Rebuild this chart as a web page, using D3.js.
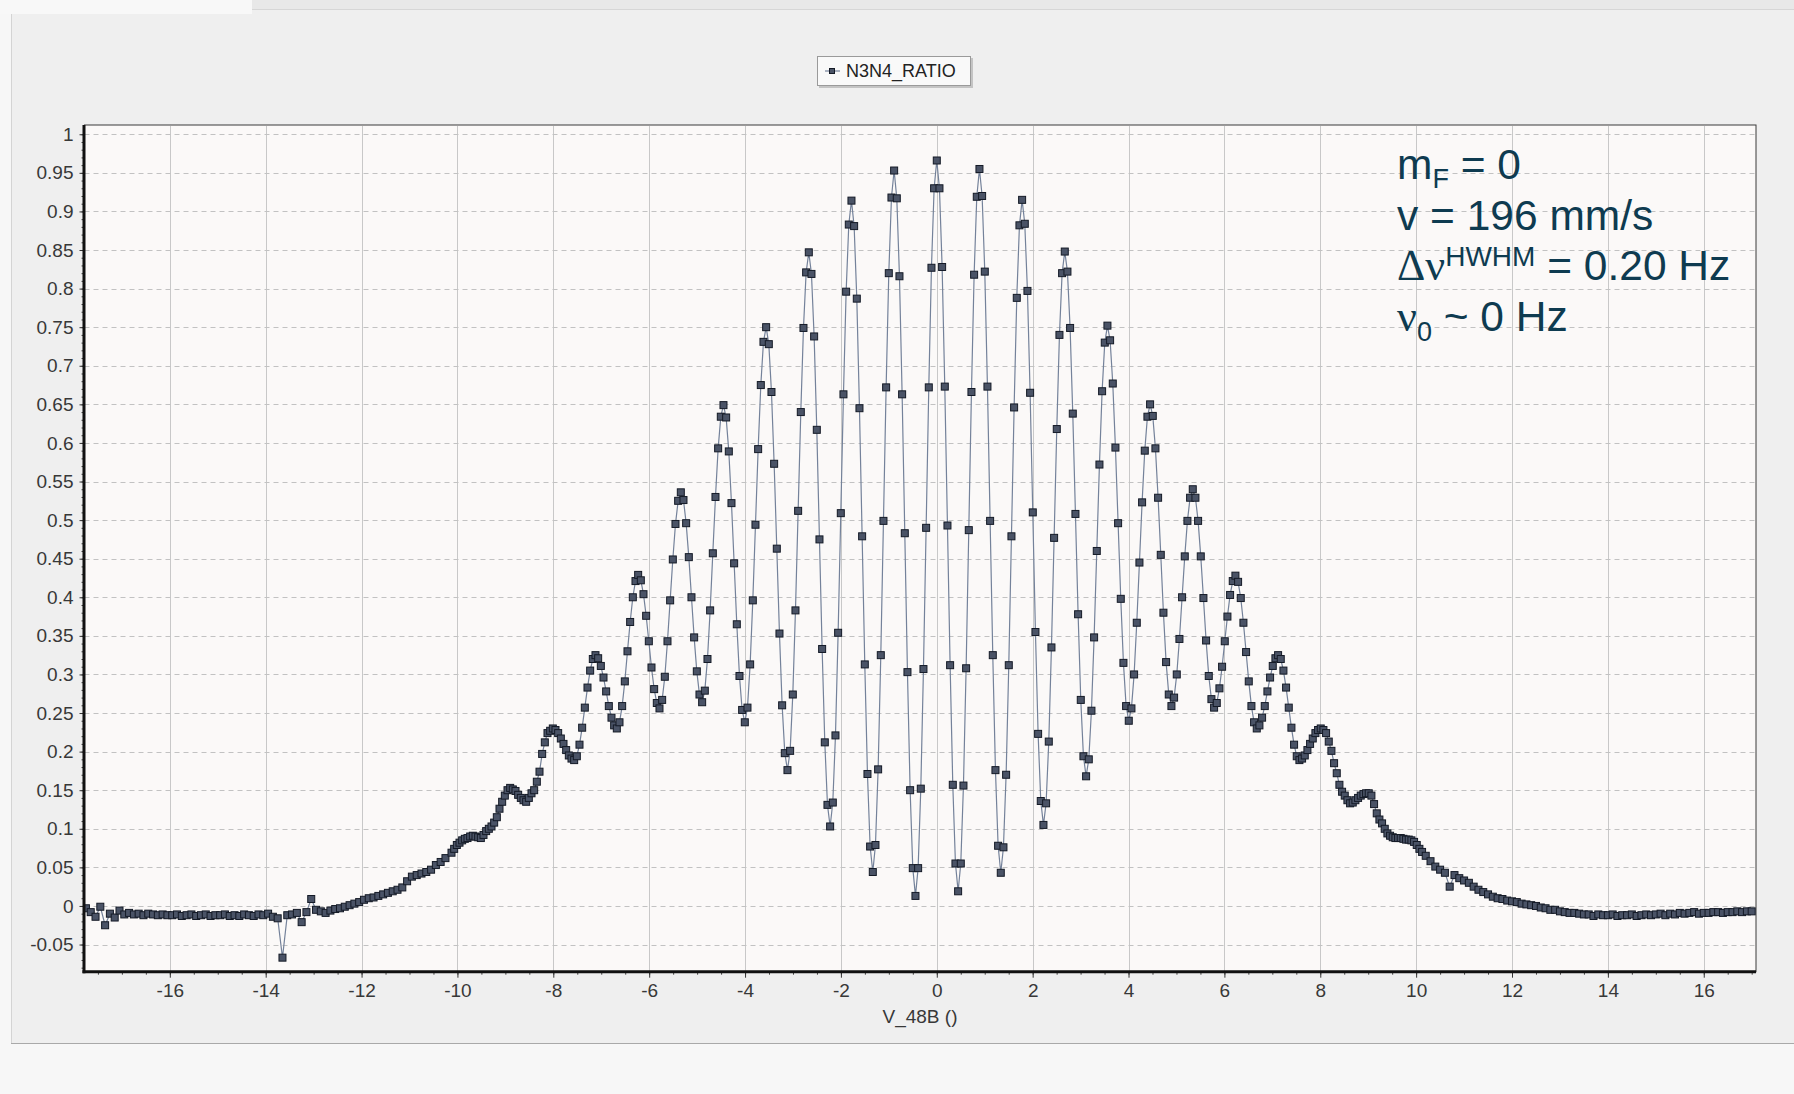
<!DOCTYPE html>
<html>
<head>
<meta charset="utf-8">
<script src="https://cdn.jsdelivr.net/npm/d3@7"></script>
<style>
  body { margin: 0; background: #efefef; }
  svg { display: block; }
</style>
</head>
<body>
<div id="chart"></div>
<script>
// N3N4_RATIO vs V_48B
let seriesName = "N3N4_RATIO";
let xTitle = "V_48B ()";

let xTicks = [-16, -14, -12, -10, -8, -6, -4, -2, 0, 2, 4, 6, 8, 10, 12, 14, 16];
let yTicks = [-0.05, 0, 0.05, 0.1, 0.15, 0.2, 0.25, 0.3, 0.35, 0.4, 0.45, 0.5,
              0.55, 0.6, 0.65, 0.7, 0.75, 0.8, 0.85, 0.9, 0.95, 1];

// left tail, V from -17.75 in steps of 0.1
let leftTailStart = -17.75;
let tailStep = 0.1;
let leftTailRatio = [
  -0.003, -0.008, -0.014, -0.001, -0.025, -0.010, -0.015, -0.006, -0.011, -0.009,
  -0.011, -0.010, -0.012, -0.010, -0.011, -0.012, -0.011, -0.012, -0.012, -0.011,
  -0.013, -0.012, -0.011, -0.013, -0.012, -0.011, -0.013, -0.012, -0.012, -0.011,
  -0.013, -0.012, -0.013, -0.011, -0.012, -0.013, -0.011, -0.012, -0.010, -0.014,
  -0.016, -0.067, -0.012, -0.011, -0.009, -0.021, -0.008, 0.009, -0.005, -0.007,
  -0.009, -0.006, -0.004, -0.003, -0.001, 0.001, 0.003, 0.005, 0.008, 0.010,
  0.011, 0.013, 0.015, 0.017, 0.019, 0.021, 0.024, 0.032, 0.038, 0.040,
  0.042, 0.044, 0.047, 0.053, 0.057, 0.062
];

// fringe region, finer steps
let centerStart = -10.12375;
let centerStep = 0.055625;
let centerRatio = [
  0.069, 0.074, 0.079, 0.082, 0.085, 0.087,
  0.088, 0.090, 0.091, 0.090, 0.089, 0.088, 0.092, 0.097, 0.100, 0.103, 0.108, 0.115, 0.126, 0.135, 0.143, 0.150,
  0.153, 0.151, 0.149, 0.144, 0.140, 0.137, 0.135, 0.140, 0.146, 0.150, 0.161, 0.174, 0.197, 0.212, 0.224, 0.227,
  0.230, 0.228, 0.224, 0.217, 0.210, 0.202, 0.195, 0.191, 0.189, 0.194, 0.209, 0.231, 0.257, 0.283, 0.305, 0.320,
  0.325, 0.321, 0.311, 0.296, 0.278, 0.259, 0.244, 0.234, 0.230, 0.238, 0.259, 0.291, 0.330, 0.368, 0.400, 0.421,
  0.429, 0.422, 0.404, 0.376, 0.343, 0.309, 0.281, 0.263, 0.256, 0.267, 0.297, 0.343, 0.396, 0.449, 0.495, 0.525,
  0.536, 0.526, 0.496, 0.452, 0.400, 0.348, 0.304, 0.274, 0.264, 0.279, 0.320, 0.383, 0.457, 0.530, 0.593, 0.634,
  0.649, 0.633, 0.589, 0.522, 0.444, 0.365, 0.298, 0.254, 0.238, 0.257, 0.313, 0.396, 0.494, 0.592, 0.675, 0.731,
  0.750, 0.728, 0.666, 0.573, 0.463, 0.353, 0.260, 0.198, 0.176, 0.201, 0.274, 0.383, 0.512, 0.640, 0.749, 0.821,
  0.847, 0.819, 0.738, 0.617, 0.475, 0.333, 0.212, 0.131, 0.103, 0.134, 0.221, 0.354, 0.509, 0.663, 0.796, 0.883,
  0.914, 0.881, 0.787, 0.645, 0.479, 0.313, 0.171, 0.077, 0.044, 0.079, 0.177, 0.325, 0.499, 0.672, 0.820, 0.918,
  0.953, 0.917, 0.816, 0.663, 0.483, 0.303, 0.150, 0.049, 0.013, 0.049, 0.152, 0.307, 0.490, 0.672, 0.827, 0.930,
  0.966,
  0.930, 0.828, 0.673, 0.493, 0.312, 0.157, 0.055, 0.019, 0.055, 0.156, 0.308, 0.487, 0.666, 0.818, 0.919, 0.955,
  0.920, 0.822, 0.673, 0.499, 0.325, 0.176, 0.078, 0.043, 0.076, 0.170, 0.312, 0.479, 0.646, 0.788, 0.882, 0.915,
  0.884, 0.797, 0.665, 0.510, 0.355, 0.223, 0.136, 0.105, 0.133, 0.213, 0.335, 0.477, 0.618, 0.740, 0.820, 0.848,
  0.822, 0.749, 0.638, 0.508, 0.378, 0.267, 0.194, 0.168, 0.190, 0.253, 0.348, 0.460, 0.572, 0.667, 0.730, 0.752,
  0.733, 0.677, 0.594, 0.496, 0.398, 0.315, 0.259, 0.240, 0.256, 0.300, 0.367, 0.445, 0.523, 0.590, 0.634, 0.650,
  0.635, 0.593, 0.529, 0.455, 0.380, 0.316, 0.274, 0.259, 0.270, 0.300, 0.346, 0.400, 0.453, 0.499, 0.529, 0.540,
  0.529, 0.499, 0.453, 0.399, 0.344, 0.298, 0.268, 0.257, 0.263, 0.282, 0.310, 0.343, 0.375, 0.403, 0.421, 0.428,
  0.420, 0.399, 0.367, 0.329, 0.291, 0.259, 0.238, 0.230, 0.234, 0.244, 0.259, 0.278, 0.296, 0.311, 0.321, 0.325,
  0.320, 0.305, 0.283, 0.257, 0.231, 0.209, 0.194, 0.189, 0.191, 0.195, 0.202, 0.210, 0.217, 0.224, 0.228, 0.230,
  0.228, 0.224, 0.213, 0.201, 0.185, 0.172, 0.157, 0.148, 0.143, 0.137, 0.133, 0.134, 0.137, 0.140, 0.143, 0.145,
  0.146, 0.146, 0.143, 0.132, 0.120, 0.112, 0.107, 0.100, 0.094, 0.091, 0.089, 0.088, 0.088, 0.088, 0.087, 0.086,
  0.086, 0.085, 0.083, 0.079, 0.074, 0.070
];

// right tail, V from 10.2 in steps of 0.1
let rightTailStart = 10.2;
let rightTailRatio = [
  0.065, 0.058, 0.051, 0.047, 0.043, 0.025, 0.040, 0.036, 0.033, 0.030,
  0.025, 0.021, 0.018, 0.015, 0.012, 0.010, 0.009, 0.007, 0.006, 0.005,
  0.003, 0.002, 0.001, 0.000, -0.002, -0.003, -0.005, -0.005, -0.007, -0.008,
  -0.009, -0.009, -0.010, -0.011, -0.011, -0.013, -0.011, -0.012, -0.012, -0.011,
  -0.013, -0.012, -0.012, -0.011, -0.013, -0.012, -0.011, -0.012, -0.011, -0.010,
  -0.012, -0.010, -0.011, -0.009, -0.010, -0.009, -0.008, -0.010, -0.009, -0.009,
  -0.008, -0.008, -0.009, -0.008, -0.008, -0.007, -0.008, -0.007, -0.007
];

let width = 1794;
let height = 1094;
let plotLeft = 84.5, plotRight = 1756, plotTop = 125, plotBottom = 971.7;

let points = [];
leftTailRatio.forEach((r, k) => points.push({ v: leftTailStart + k * tailStep, r: r }));
centerRatio.forEach((r, k) => points.push({ v: centerStart + k * centerStep, r: r }));
rightTailRatio.forEach((r, k) => points.push({ v: rightTailStart + k * tailStep, r: r }));

let svg = d3.select("#chart").append("svg")
    .attr("width", width)
    .attr("height", height);

// window chrome around the chart
svg.append("rect").attr("width", width).attr("height", height).attr("fill", "#efefef");
svg.append("rect").attr("x", 0).attr("y", 0).attr("width", width).attr("height", 9).attr("fill", "#e8e8e8");
svg.append("line").attr("x1", 0).attr("x2", width).attr("y1", 9.5).attr("y2", 9.5).attr("stroke", "#d6d6d6");
svg.append("rect").attr("x", 0).attr("y", 0).attr("width", 252).attr("height", 14).attr("fill", "#f8f8f8");
svg.append("rect").attr("x", 0).attr("y", 14).attr("width", 11).attr("height", height).attr("fill", "#f7f7f7");
svg.append("line").attr("x1", 11.5).attr("x2", 11.5).attr("y1", 14).attr("y2", 1043).attr("stroke", "#d4d4d4");
svg.append("rect").attr("x", 0).attr("y", 1044).attr("width", width).attr("height", 50).attr("fill", "#f7f7f7");
svg.append("line").attr("x1", 11).attr("x2", width).attr("y1", 1043.5).attr("y2", 1043.5).attr("stroke", "#a9a9a9");

let xScale = d3.scaleLinear().domain([-17.78, 17.09]).range([plotLeft, plotRight]);
let yScale = d3.scaleLinear().domain([-0.0852, 1.012]).range([plotBottom, plotTop]);

svg.append("rect")
    .attr("x", plotLeft).attr("y", plotTop)
    .attr("width", plotRight - plotLeft).attr("height", plotBottom - plotTop)
    .attr("fill", "#fbf9f8")
    .attr("stroke", "#3a3a3a")
    .attr("stroke-width", 1);

// grid
svg.append("g").selectAll("line").data(xTicks).enter().append("line")
    .attr("x1", d => Math.round(xScale(d)) + 0.5).attr("x2", d => Math.round(xScale(d)) + 0.5)
    .attr("y1", plotTop + 1).attr("y2", plotBottom)
    .attr("stroke", "#c8c8c8").attr("stroke-width", 1);

svg.append("g").selectAll("line").data(yTicks).enter().append("line")
    .attr("x1", plotLeft).attr("x2", plotRight - 1)
    .attr("y1", d => Math.round(yScale(d)) + 0.5).attr("y2", d => Math.round(yScale(d)) + 0.5)
    .attr("stroke", "#c2c2c2").attr("stroke-width", 1)
    .attr("stroke-dasharray", "5,4");

svg.append("clipPath").attr("id", "plotclip").append("rect")
    .attr("x", plotLeft).attr("y", plotTop)
    .attr("width", plotRight - plotLeft).attr("height", plotBottom - plotTop);

let dataGroup = svg.append("g").attr("clip-path", "url(#plotclip)");

let lineGen = d3.line().x(d => xScale(d.v)).y(d => yScale(d.r));

dataGroup.append("path")
    .datum(points)
    .attr("d", lineGen)
    .attr("fill", "none")
    .attr("stroke", "#74829a")
    .attr("stroke-width", 1.2);

dataGroup.selectAll(".marker").data(points).enter().append("rect")
    .attr("class", "marker")
    .attr("x", d => xScale(d.v) - 3.5)
    .attr("y", d => yScale(d.r) - 3.5)
    .attr("width", 7)
    .attr("height", 7)
    .attr("fill", "#4a5366")
    .attr("stroke", "#141a26")
    .attr("stroke-width", 1);

// axes
let tickFont = "'Liberation Sans', Arial, sans-serif";

let yMinor = d3.range(-8, 101).map(k => k / 100);
let yMinorAxis = d3.axisLeft(yScale).tickValues(yMinor).tickSize(3).tickFormat("");
svg.append("g").attr("transform", "translate(" + plotLeft + ",0)").call(yMinorAxis)
    .call(g => g.select(".domain").remove())
    .selectAll("line").attr("stroke", "#444");

let yAxis = d3.axisLeft(yScale).tickValues(yTicks).tickSize(5).tickPadding(6)
    .tickFormat(d => String(d));
let yAxisGroup = svg.append("g").attr("transform", "translate(" + plotLeft + ",0)").call(yAxis);
yAxisGroup.select(".domain").remove();
yAxisGroup.selectAll("line").attr("stroke", "#333");
yAxisGroup.selectAll("text")
    .style("font-family", tickFont).style("font-size", "19px").attr("fill", "#383838");

let xMinor = d3.range(-35, 35).map(k => k / 2);
let xMinorAxis = d3.axisBottom(xScale).tickValues(xMinor).tickSize(3).tickFormat("");
svg.append("g").attr("transform", "translate(0," + plotBottom + ")").call(xMinorAxis)
    .call(g => g.select(".domain").remove())
    .selectAll("line").attr("stroke", "#444");

let xAxis = d3.axisBottom(xScale).tickValues(xTicks).tickSize(6).tickPadding(6)
    .tickFormat(d => String(d));
let xAxisGroup = svg.append("g").attr("transform", "translate(0," + plotBottom + ")").call(xAxis);
xAxisGroup.select(".domain").remove();
xAxisGroup.selectAll("line").attr("stroke", "#333");
xAxisGroup.selectAll("text")
    .style("font-family", tickFont).style("font-size", "19px").attr("fill", "#383838");

// thick axis lines
svg.append("line").attr("x1", plotLeft - 0.5).attr("x2", plotLeft - 0.5)
    .attr("y1", plotTop).attr("y2", plotBottom + 1.5)
    .attr("stroke", "#111").attr("stroke-width", 3);
svg.append("line").attr("x1", plotLeft - 2).attr("x2", plotRight)
    .attr("y1", plotBottom).attr("y2", plotBottom)
    .attr("stroke", "#111").attr("stroke-width", 3);

svg.append("text")
    .attr("x", 920).attr("y", 1023)
    .attr("text-anchor", "middle")
    .style("font-family", tickFont).style("font-size", "19px")
    .attr("fill", "#383838")
    .text(xTitle);

// legend
let legend = svg.append("g");
legend.append("rect").attr("x", 819).attr("y", 58).attr("width", 154).attr("height", 30).attr("fill", "#c4c4c4");
legend.append("rect").attr("x", 817.5).attr("y", 56.5).attr("width", 153).attr("height", 29)
    .attr("fill", "#f9f9f9").attr("stroke", "#9a9a9a");
legend.append("line").attr("x1", 825).attr("x2", 840).attr("y1", 71).attr("y2", 71)
    .attr("stroke", "#74829a").attr("stroke-width", 1.2);
legend.append("rect").attr("x", 829.5).attr("y", 68.5).attr("width", 5).attr("height", 5)
    .attr("fill", "#4a5366").attr("stroke", "#141a26");
legend.append("text").attr("x", 846).attr("y", 77)
    .style("font-family", tickFont).style("font-size", "18px")
    .attr("fill", "#222")
    .text(seriesName);

// annotation
let noteColor = "#0e3b50";
let noteFont = "'Liberation Sans', Arial, sans-serif";
let greekFont = "'Liberation Serif', 'Times New Roman', serif";
let noteX = 1397;
let note = svg.append("g").attr("fill", noteColor).style("font-family", noteFont);

let l1 = note.append("text").attr("x", noteX).attr("y", 179).style("font-size", "42.5px");
l1.append("tspan").text("m");
l1.append("tspan").attr("dy", 9).style("font-size", "27px").text("F");
l1.append("tspan").attr("dy", -9).text(" = 0");

note.append("text").attr("x", noteX).attr("y", 230).style("font-size", "42.5px")
    .text("v = 196 mm/s");

let l3 = note.append("text").attr("x", noteX).attr("y", 280).style("font-size", "42.5px");
l3.append("tspan").style("font-family", greekFont).style("font-size", "44px").text("Δν");
l3.append("tspan").attr("dy", -14).style("font-size", "28px").text("HWHM");
l3.append("tspan").attr("dy", 14).text(" = 0.20 Hz");

let l4 = note.append("text").attr("x", noteX).attr("y", 331).style("font-size", "42.5px");
l4.append("tspan").style("font-family", greekFont).style("font-size", "44px").text("ν");
l4.append("tspan").attr("dy", 10).style("font-size", "27px").text("0");
l4.append("tspan").attr("dy", -10).text(" ~ 0 Hz");
</script>
</body>
</html>
